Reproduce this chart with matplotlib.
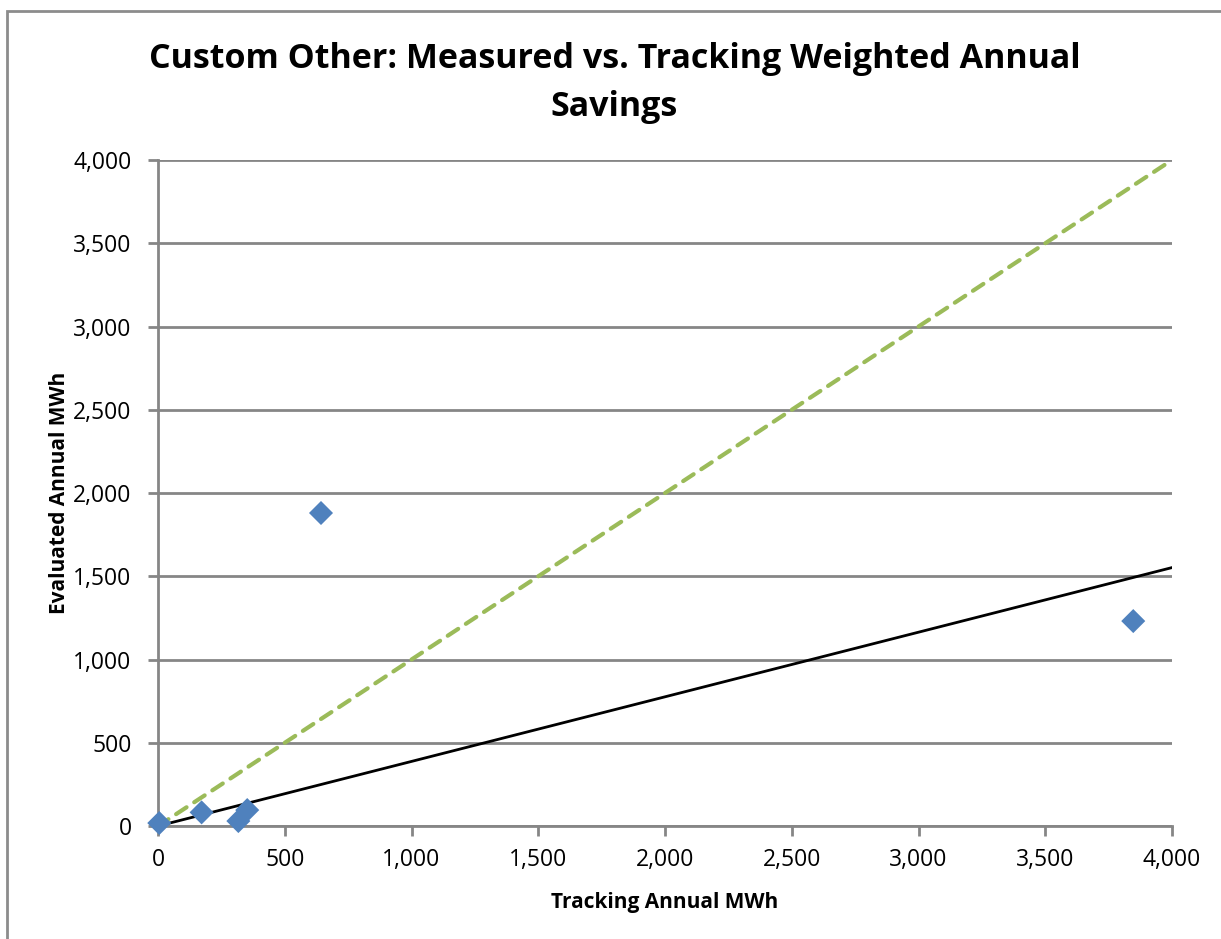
import matplotlib.pyplot as plt
import numpy as np
from matplotlib.ticker import FuncFormatter, MultipleLocator
from matplotlib.patches import Rectangle

tracking = [5, 172, 317, 352, 643, 3847]
evaluated = [18, 82, 30, 96, 1880, 1231]

title = "Custom Other: Measured vs. Tracking Weighted Annual\nSavings"
xlabel = "Tracking Annual MWh"
ylabel = "Evaluated Annual MWh"

plt.rcParams['font.family'] = ['Open Sans', 'DejaVu Sans']

fig = plt.figure(figsize=(12.21, 9.39), dpi=100)
ax = fig.add_axes([0.1294, 0.1203, 0.9599 - 0.1294, 0.8296 - 0.1203])

# chart border (only top/left visible in the reference)
fig.patches.append(Rectangle((7 / 1221, -0.1), 1.2, 1 - 11 / 939 + 0.1,
                             transform=fig.transFigure, fill=False,
                             edgecolor='#8c8c8c', linewidth=2))

grey = '#868686'
ax.yaxis.set_major_locator(MultipleLocator(500))
ax.xaxis.set_major_locator(MultipleLocator(500))
ax.grid(axis='y', color=grey, linewidth=2)
ax.set_axisbelow(True)

# one-to-one line
ax.plot([0, 4000], [0, 4000], color='#9bbb59', linestyle=(0, (3, 2.2)),
        linewidth=3, dash_capstyle='round', zorder=2)

# linear trendline through origin
x = np.array(tracking, dtype=float)
y = np.array(evaluated, dtype=float)
slope = (x * y).sum() / (x * x).sum()
ax.plot([0, 4000], [0, 4000 * slope], color='black', linewidth=2, zorder=3)

ax.scatter(tracking, evaluated, marker='D', s=150, color='#4f81bd',
           edgecolors='none', zorder=4, clip_on=False)

ax.set_xlim(0, 4000)
ax.set_ylim(0, 4000)
fmt = FuncFormatter(lambda v, p: f"{int(v):,}")
ax.xaxis.set_major_formatter(fmt)
ax.yaxis.set_major_formatter(fmt)

for s in ['top', 'right']:
    ax.spines[s].set_visible(False)
for s in ['left', 'bottom']:
    ax.spines[s].set_color(grey)
    ax.spines[s].set_linewidth(2)
ax.tick_params(axis='both', colors=grey, width=2, length=7, labelsize=16.5,
               labelcolor='black', direction='out')
ax.tick_params(axis='x', pad=9)
ax.tick_params(axis='y', pad=12)

ax.set_xlabel(xlabel, fontsize=15, fontweight='bold', labelpad=14)
ax.set_ylabel(ylabel, fontsize=15, fontweight='bold', labelpad=2)
fig.text(0.5 * (147 + 1082) / 1221, 1 - 83 / 939, title, ha='center',
         va='center', fontsize=24.5, fontweight='bold', linespacing=1.55)

fig.savefig('out.png', dpi=100)
